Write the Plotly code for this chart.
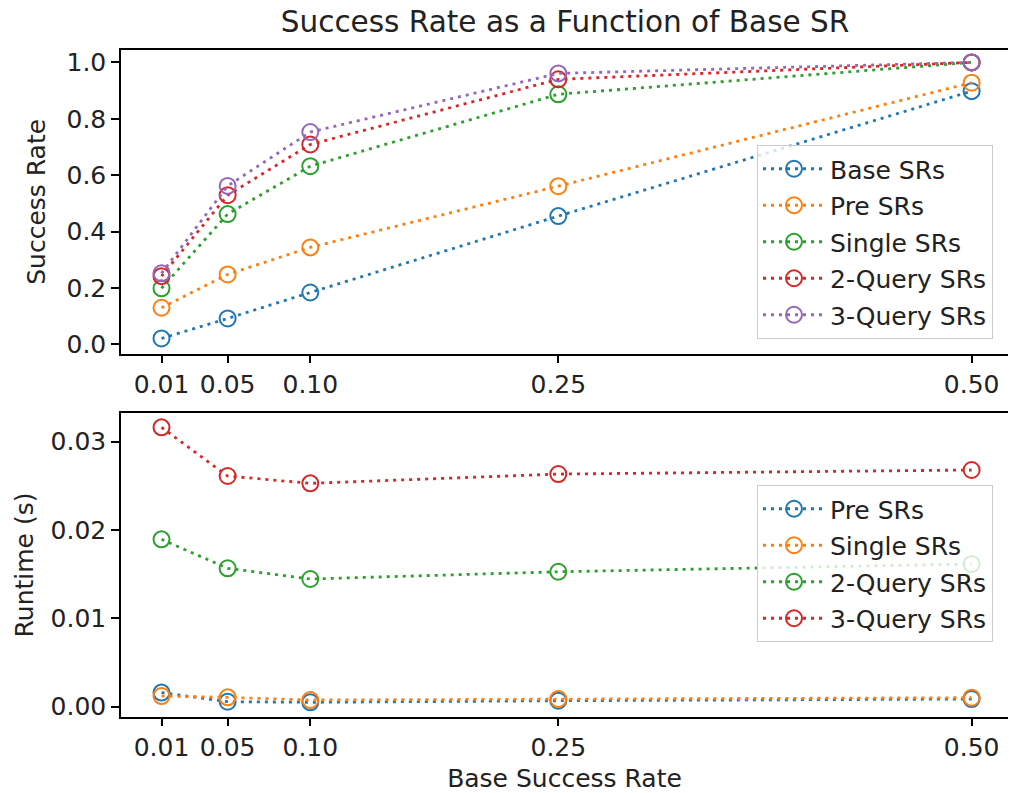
import plotly.graph_objects as go

# ---- data ----
base_sr = [0.01, 0.05, 0.10, 0.25, 0.50]
tick_labels = ["0.01", "0.05", "0.10", "0.25", "0.50"]

# top panel: success rates
sr_base = [0.021, 0.092, 0.184, 0.455, 0.898]
sr_pre = [0.130, 0.248, 0.344, 0.561, 0.928]
sr_single = [0.199, 0.462, 0.632, 0.887, 1.0]
sr_2query = [0.242, 0.529, 0.709, 0.940, 1.0]
sr_3query = [0.252, 0.562, 0.753, 0.961, 1.0]
top_names = ["Base SRs", "Pre SRs", "Single SRs", "2-Query SRs", "3-Query SRs"]

# bottom panel: runtimes (s)
rt_pre = [0.0016, 0.00057, 0.0005, 0.00068, 0.00087]
rt_single = [0.00121, 0.00106, 0.00076, 0.00087, 0.00102]
rt_2query = [0.01895, 0.01567, 0.01446, 0.01528, 0.01616]
rt_3query = [0.03163, 0.02612, 0.02529, 0.02634, 0.0268]
bottom_names = ["Pre SRs", "Single SRs", "2-Query SRs", "3-Query SRs"]

colors = ["#1f77b4", "#ff7f0e", "#2ca02c", "#d62728", "#9467bd"]

FONT = "DejaVu Sans"
TXT = "#222222"
FS = 25
W, H = 1009, 793

fig = go.Figure()


def add_series(x, y, name, color, xa, ya, legend, group):
    fig.add_trace(go.Scatter(
        x=x, y=y, name=name, mode="lines+markers",
        line=dict(color=color, width=2.8, dash="3px,5px"),
        marker=dict(symbol="circle-open", size=16, color=color,
                    line=dict(width=2, color=color)),
        xaxis=xa, yaxis=ya, legend=legend, legendgroup=group,
    ))


for i, (vals, nm) in enumerate(zip([sr_base, sr_pre, sr_single, sr_2query, sr_3query], top_names)):
    add_series(base_sr, vals, nm, colors[i], "x", "y", "legend", "t%d" % i)

for i, (vals, nm) in enumerate(zip([rt_pre, rt_single, rt_2query, rt_3query], bottom_names)):
    add_series(base_sr, vals, nm, colors[i], "x2", "y2", "legend2", "b%d" % i)

axis_common = dict(
    showline=True, linecolor="black", linewidth=1.5,
    ticks="outside", ticklen=8, tickwidth=1.5, tickcolor="black",
    showgrid=False, zeroline=False, automargin=False,
    tickfont=dict(family=FONT, size=FS, color=TXT),
)

xr = [-0.0145, 0.522]

left_px, right_px = 121, 1008
top_dom = [1 - 353.7 / H, 1 - 50 / H]
bot_dom = [1 - 716.7 / H, 1 - 413.3 / H]


def legend_box(ytop_px):
    return dict(
        x=(757 - left_px) / (right_px - left_px), xanchor="left",
        y=1 - ytop_px / H, yanchor="top",
        bgcolor="rgba(255,255,255,0.8)", bordercolor="#cccccc", borderwidth=1,
        font=dict(family=FONT, size=FS, color=TXT),
        tracegroupgap=1, itemwidth=62,
    )


fig.update_layout(
    width=W, height=H,
    margin=dict(l=left_px, r=W - right_px, t=0, b=0, autoexpand=False),
    paper_bgcolor="white", plot_bgcolor="white",
    font=dict(family=FONT, color=TXT),
    title=dict(text="Success Rate as a Function of Base SR",
               x=565 / W, xref="container", xanchor="center",
               y=1 - 22 / H, yref="container", yanchor="middle",
               font=dict(family=FONT, size=29.5, color=TXT)),
    xaxis=dict(domain=[0, 1], anchor="y", range=xr, mirror=True,
               tickvals=base_sr, ticktext=tick_labels, **axis_common),
    yaxis=dict(domain=top_dom, anchor="x", range=[-0.033, 1.044],
               tickvals=[0, 0.2, 0.4, 0.6, 0.8, 1.0],
               ticktext=["0.0", "0.2", "0.4", "0.6", "0.8", "1.0"],
               title=dict(text="Success Rate", standoff=14,
                          font=dict(family=FONT, size=FS, color=TXT)),
               **axis_common),
    xaxis2=dict(domain=[0, 1], anchor="y2", range=xr, mirror=True,
                tickvals=base_sr, ticktext=tick_labels,
                title=dict(text="Base Success Rate", standoff=8,
                           font=dict(family=FONT, size=FS, color=TXT)),
                **axis_common),
    yaxis2=dict(domain=bot_dom, anchor="x2", range=[-0.00113, 0.03322],
                tickvals=[0, 0.01, 0.02, 0.03],
                ticktext=["0.00", "0.01", "0.02", "0.03"],
                title=dict(text="Runtime (s)", standoff=10,
                           font=dict(family=FONT, size=FS, color=TXT)),
                **axis_common),
    legend=legend_box(145),
    legend2=legend_box(485),
)

# remove the page's default 8px body margin so the figure fills the window
fig.write_html("out.html",
               config={"displayModeBar": False},
               post_script="document.body.style.margin='0';document.body.style.padding='0';")
